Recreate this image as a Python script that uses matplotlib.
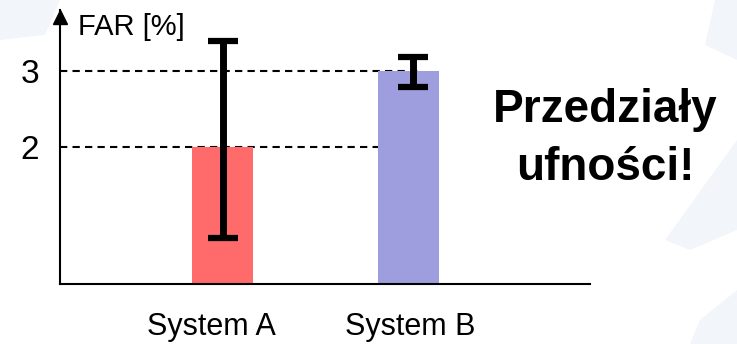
import numpy as np
import matplotlib.pyplot as plt
from matplotlib.patches import Polygon
import matplotlib.transforms as mtransforms

plt.rcParams['font.family'] = ['Liberation Sans', 'DejaVu Sans']

systems = ['System A', 'System B']
far = [2.0, 3.0]          # FAR [%]
ci_low = [0.80, 2.79]     # dolna granica przedzialu
ci_high = [3.39, 3.18]    # gorna granica przedzialu
ref_lines = [2, 3]
bar_colors = ['#ff6b6b', '#9e9ede']

W, H = 737, 344
fig = plt.figure(figsize=(W / 100, H / 100), dpi=100)

# blade niebieskie smugi w tle (piksele od gornego lewego rogu)
for pts in [[(0, 0), (60, 0), (45, 35), (0, 40)],
            [(737, 0), (737, 60), (705, 45), (715, 0)],
            [(737, 140), (737, 230), (690, 250), (665, 240)],
            [(737, 290), (737, 344), (690, 344), (700, 320)]]:
    xy = [(px / W, 1 - py / H) for px, py in pts]
    fig.add_artist(Polygon(xy, closed=True, transform=fig.transFigure,
                           color='#e4e9f6', alpha=0.45, lw=0, zorder=0))

ax = fig.add_axes([60 / W, 60 / H, 530 / W, 274 / H])
ax.patch.set_alpha(0)
x = np.arange(len(systems))

for yv, xe in zip(ref_lines, [1.008, 1.05]):
    ax.hlines(yv, -0.874, xe, colors='black', linestyles=(0, (3.5, 2.5)),
              lw=1.5, zorder=1)

ax.bar(x, far, width=0.328, color=bar_colors, zorder=2)
err_x = x + np.array([0.003, 0.024])
far_a = np.array(far)
ax.errorbar(err_x, far_a, yerr=[far_a - np.array(ci_low), np.array(ci_high) - far_a],
            fmt='none', ecolor='black', elinewidth=5, capsize=11, capthick=4.5,
            zorder=3)

ax.set_xlim(-0.874, 1.976)
ax.set_ylim(0.2, 3.80)
for s in ['top', 'right']:
    ax.spines[s].set_visible(False)
for s in ['left', 'bottom']:
    ax.spines[s].set_linewidth(1.5)

ax.set_yticks(ref_lines)
ax.set_yticklabels([str(v) for v in ref_lines], fontsize=24)
ax.tick_params(axis='y', length=0, pad=15)
ax.set_xticks(x - np.array([0.06, -0.01]))
ax.set_xticklabels(systems, fontsize=22)
ax.tick_params(axis='x', length=0, pad=20)

# strzalka na osi Y
off = mtransforms.offset_copy(ax.transAxes, fig=fig, y=-5, units='points')
ax.plot([0], [1], marker='^', markersize=10, color='black', transform=off,
        clip_on=False)

fig.text(78 / W, 1 - 35 / H, 'FAR [%]', fontsize=21, va='baseline', ha='left')
fig.text(605 / W, 1 - 122 / H, 'Przedziały', fontsize=33, fontweight='bold',
         va='baseline', ha='center')
fig.text(605 / W, 1 - 180 / H, 'ufności!', fontsize=33, fontweight='bold',
         va='baseline', ha='center')

fig.savefig('out.png', dpi=100)
